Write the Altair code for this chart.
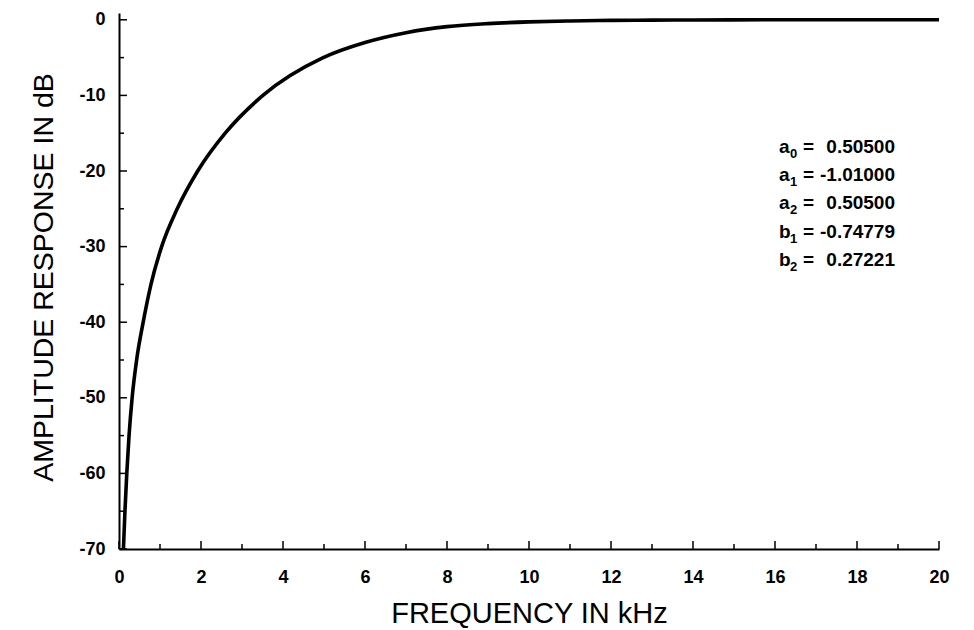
import altair as alt
import pandas as pd

# ---- data ----
freq_khz = [0.108, 0.145, 0.19, 0.245, 0.32, 0.43, 0.59, 0.78, 1.04, 1.42, 1.92,
            2.59, 3.51, 4.98, 6.0, 7.0, 8.0, 9.0, 10.0, 11.0, 12.0, 13.0, 14.0,
            16.0, 18.0, 20.0]
resp_db = [-70, -65, -60, -55, -50, -45, -40, -35, -30, -25, -20,
           -15, -10, -5, -3.0, -1.7, -0.9, -0.5, -0.28, -0.15, -0.08, -0.04, -0.02,
           0, 0, 0]

x_major = [0, 2, 4, 6, 8, 10, 12, 14, 16, 18, 20]
x_minor = [1, 3, 5, 7, 9, 11, 13, 15, 17, 19]
y_major = [0, -10, -20, -30, -40, -50, -60, -70]
y_minor = [-5, -15, -25, -35, -45, -55, -65]

coef_letters = ["a", "a", "a", "b", "b"]
coef_subs = ["0", "1", "2", "1", "2"]
coef_values = ["0.50500", "-1.01000", "0.50500", "-0.74779", "0.27221"]

FONT = "Liberation Sans"
W, H = 820, 536
X_DOM = [0, 20]
Y_DOM = [-70, 0.9]

xs = alt.Scale(domain=X_DOM, nice=False, zero=False)
ys = alt.Scale(domain=Y_DOM, nice=False, zero=False)

x_axis = alt.Axis(
    values=x_major, labelExpr="datum.value + ''", labelFont=FONT, labelFontSize=18,
    labelFontWeight="bold", labelColor="black", ticks=False, tickSize=0,
    labelPadding=33, labelBaseline="alphabetic", labelFlush=False, labelOverlap=False,
    domain=True, domainWidth=2, domainColor="black", grid=False,
    title="FREQUENCY IN kHz", titleFont=FONT, titleFontSize=29, titleFontWeight="normal",
    titleColor="black", titleY=73, titleBaseline="alphabetic")
y_axis = alt.Axis(
    values=y_major, labelExpr="datum.value + ''", labelFont=FONT, labelFontSize=18,
    labelFontWeight="bold", labelColor="black", ticks=False, tickSize=0,
    labelPadding=14, labelFlush=False, labelOverlap=False,
    domain=True, domainWidth=2, domainColor="black", grid=False,
    title="AMPLITUDE RESPONSE IN dB", titleFont=FONT, titleFontSize=28.5,
    titleFontWeight="normal", titleColor="black", titleX=-67, titleY=264,
    titleBaseline="alphabetic", titleAngle=-90, titleAlign="center")

curve_df = pd.DataFrame({"f": freq_khz, "db": resp_db})

curve = alt.Chart(curve_df).mark_line(
    color="black", strokeWidth=3.6, interpolate="monotone", clip=True
).encode(
    x=alt.X("f:Q", scale=xs, axis=x_axis),
    y=alt.Y("db:Q", scale=ys, axis=y_axis),
)

def xticks(vals, length):
    df = pd.DataFrame({"f": vals})
    return alt.Chart(df).mark_rule(color="black", strokeWidth=1.5).encode(
        x=alt.X("f:Q", scale=xs, axis=x_axis),
        y=alt.value(H), y2=alt.value(H - length))

def yticks(vals, length):
    df = pd.DataFrame({"db": vals})
    return alt.Chart(df).mark_rule(color="black", strokeWidth=1.5).encode(
        y=alt.Y("db:Q", scale=ys, axis=y_axis),
        x=alt.value(0), x2=alt.value(length))

one = pd.DataFrame({"k": [0]})
LINE_H = 28.2
TOP = 140
txt_letters = alt.Chart(one).mark_text(
    text=coef_letters, font=FONT, fontSize=19, fontWeight="bold", align="left",
    baseline="alphabetic", lineHeight=LINE_H, color="black"
).encode(x=alt.value(660), y=alt.value(TOP))
txt_subs = alt.Chart(one).mark_text(
    text=coef_subs, font=FONT, fontSize=13, fontWeight="bold", align="left",
    baseline="alphabetic", lineHeight=LINE_H, color="black"
).encode(x=alt.value(671), y=alt.value(TOP + 5))
txt_eq = alt.Chart(one).mark_text(
    text=["="] * len(coef_values), font=FONT, fontSize=19, fontWeight="bold", align="left",
    baseline="alphabetic", lineHeight=LINE_H, color="black"
).encode(x=alt.value(684), y=alt.value(TOP))
txt_vals = alt.Chart(one).mark_text(
    text=coef_values, font=FONT, fontSize=19, fontWeight="bold", align="right",
    baseline="alphabetic", lineHeight=LINE_H, color="black"
).encode(x=alt.value(776), y=alt.value(TOP))

chart = alt.layer(
    curve,
    xticks(x_major, 8), xticks(x_minor, 5),
    yticks(y_major, 8), yticks(y_minor, 5),
    txt_letters, txt_subs, txt_eq, txt_vals,
).properties(
    width=W, height=H,
    padding={"left": 111, "top": 5, "right": 20, "bottom": 82},
    autosize=alt.AutoSizeParams(type="none"),
    background="white",
).configure_view(stroke=None)

chart.save("out.html", embed_options={"renderer": "svg", "actions": False})
